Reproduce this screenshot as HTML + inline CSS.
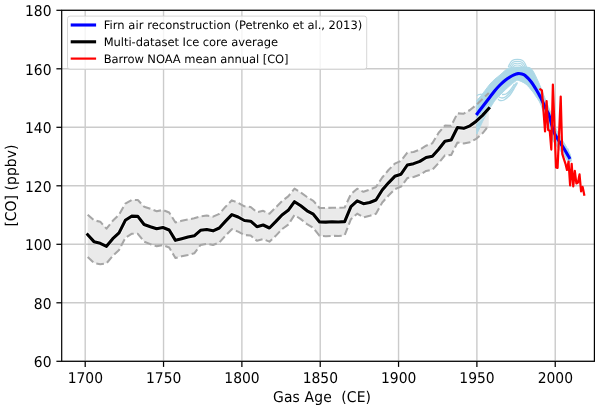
<!DOCTYPE html>
<html><head><meta charset="utf-8"><title>CO reconstruction</title>
<style>
html,body{margin:0;padding:0;background:#fff;}
body{width:600px;height:410px;overflow:hidden;}
svg{display:block;}
text{font-family:'DejaVu Sans','Liberation Sans',sans-serif;fill:#000;}
.tick{font-size:13.9px;text-rendering:geometricPrecision;}
.lab{font-size:13.9px;text-rendering:geometricPrecision;}
.leg{font-size:11.5px;text-rendering:geometricPrecision;}
</style></head><body>
<svg width="600" height="410" viewBox="0 0 600 410">
<rect x="0" y="0" width="600" height="410" fill="#ffffff"/>
<defs><clipPath id="ax"><rect x="61.7" y="10.3" width="532.6999999999999" height="351.0"/></clipPath></defs>

<g stroke="#cbcbcb" stroke-width="1.4" fill="none">
<line x1="85.20" y1="10.3" x2="85.20" y2="361.3"/>
<line x1="163.54" y1="10.3" x2="163.54" y2="361.3"/>
<line x1="241.88" y1="10.3" x2="241.88" y2="361.3"/>
<line x1="320.22" y1="10.3" x2="320.22" y2="361.3"/>
<line x1="398.55" y1="10.3" x2="398.55" y2="361.3"/>
<line x1="476.89" y1="10.3" x2="476.89" y2="361.3"/>
<line x1="555.23" y1="10.3" x2="555.23" y2="361.3"/>
<line x1="61.7" y1="361.30" x2="594.4" y2="361.30"/>
<line x1="61.7" y1="302.80" x2="594.4" y2="302.80"/>
<line x1="61.7" y1="244.30" x2="594.4" y2="244.30"/>
<line x1="61.7" y1="185.80" x2="594.4" y2="185.80"/>
<line x1="61.7" y1="127.30" x2="594.4" y2="127.30"/>
<line x1="61.7" y1="68.80" x2="594.4" y2="68.80"/>
<line x1="61.7" y1="10.30" x2="594.4" y2="10.30"/>
</g>
<g clip-path="url(#ax)">
<path d="M87.70,214.67 L93.97,220.33 L100.23,221.67 L106.50,228.67 L112.77,220.83 L119.03,214.67 L125.30,203.67 L131.57,200.00 L137.84,200.00 L144.10,206.67 L150.37,208.83 L156.64,211.17 L162.90,210.00 L169.17,212.50 L175.44,222.50 L181.71,220.83 L187.97,219.50 L194.24,218.33 L200.51,216.33 L206.77,215.50 L213.04,216.67 L219.31,213.83 L225.57,206.67 L231.84,200.33 L238.11,202.83 L244.38,206.33 L250.64,207.00 L256.91,212.17 L263.18,210.83 L269.44,213.67 L275.71,207.50 L281.98,201.17 L288.24,196.33 L294.51,188.67 L300.78,192.50 L307.05,197.00 L313.31,200.83 L319.58,208.00 L325.85,208.00 L332.11,207.67 L338.38,207.83 L344.65,207.50 L350.91,194.17 L357.18,188.67 L363.45,191.83 L369.72,189.67 L375.98,187.00 L382.25,177.50 L388.52,170.00 L394.78,163.67 L401.05,160.83 L407.32,152.67 L413.58,152.03 L419.85,149.63 L426.12,145.67 L432.38,143.33 L438.65,132.70 L444.92,125.60 L451.19,125.83 L457.45,113.33 L463.72,113.67 L469.99,110.00 L476.25,105.00 L482.52,99.00 L488.79,93.00 L488.79,125.50 L482.52,133.33 L476.25,138.83 L469.99,142.20 L463.72,143.50 L457.45,142.50 L451.19,155.00 L444.92,155.33 L438.65,163.00 L432.38,169.77 L426.12,170.93 L419.85,174.77 L413.58,176.93 L407.32,178.10 L401.05,186.67 L394.78,189.17 L388.52,195.50 L382.25,202.50 L375.98,213.80 L369.72,215.83 L363.45,217.37 L357.18,213.67 L350.91,219.17 L344.65,235.33 L338.38,236.00 L332.11,235.83 L325.85,236.17 L319.58,235.83 L313.31,228.00 L307.05,224.17 L300.78,219.17 L294.51,215.00 L288.24,224.67 L281.98,229.17 L275.71,235.83 L269.44,241.67 L263.18,239.17 L256.91,240.83 L250.64,235.50 L244.38,235.00 L238.11,231.67 L231.84,229.17 L225.57,235.50 L219.31,242.50 L213.04,245.00 L206.77,243.83 L200.51,245.00 L194.24,253.33 L187.97,255.00 L181.71,256.33 L175.44,258.00 L169.17,247.50 L162.90,245.00 L156.64,246.33 L150.37,244.17 L144.10,241.67 L137.84,233.83 L131.57,233.83 L125.30,237.83 L119.03,250.00 L112.77,255.83 L106.50,263.33 L100.23,264.17 L93.97,263.00 L87.70,257.00Z" fill="#808080" fill-opacity="0.17" stroke="none"/>
<path d="M476.80,100.00 C477.33,99.50 478.63,98.58 480.00,97.00 C481.37,95.42 483.33,92.67 485.00,90.50 C486.67,88.33 488.33,85.92 490.00,84.00 C491.67,82.08 493.33,80.50 495.00,79.00 C496.67,77.50 498.33,76.42 500.00,75.00 C501.67,73.58 503.67,71.58 505.00,70.50 C506.33,69.42 506.83,69.03 508.00,68.50 C509.17,67.97 510.00,67.55 512.00,67.30 C514.00,67.05 517.17,66.97 520.00,67.00 C522.83,67.03 526.83,66.83 529.00,67.50 C531.17,68.17 531.50,68.75 533.00,71.00 C534.50,73.25 536.67,78.17 538.00,81.00 C539.33,83.83 539.67,84.67 541.00,88.00 C542.33,91.33 544.42,97.00 546.00,101.00 C547.58,105.00 548.97,107.67 550.50,112.00 C552.03,116.33 553.55,122.87 555.20,127.00 C556.85,131.13 558.68,133.75 560.40,136.80 C562.12,139.85 563.93,142.50 565.50,145.30 C567.07,148.10 568.88,151.57 569.80,153.60 C570.72,155.63 570.80,156.85 571.00,157.50 L571.20,161.20 C570.72,161.30 569.45,162.73 568.30,161.80 C567.15,160.87 565.77,157.60 564.30,155.60 C562.83,153.60 561.13,151.90 559.50,149.80 C557.87,147.70 556.08,145.63 554.50,143.00 C552.92,140.37 551.33,137.50 550.00,134.00 C548.67,130.50 547.73,126.08 546.50,122.00 C545.27,117.92 543.80,112.92 542.60,109.50 C541.40,106.08 540.52,103.83 539.30,101.50 C538.08,99.17 536.47,97.20 535.30,95.50 C534.13,93.80 533.85,93.18 532.30,91.30 C530.75,89.42 528.33,86.02 526.00,84.20 C523.67,82.38 520.13,80.83 518.30,80.40 C516.47,79.97 516.47,80.67 515.00,81.60 C513.53,82.53 511.67,84.10 509.50,86.00 C507.33,87.90 504.12,90.92 502.00,93.00 C499.88,95.08 498.20,96.92 496.80,98.50 C495.40,100.08 494.95,100.50 493.60,102.50 C492.25,104.50 490.33,107.75 488.70,110.50 C487.07,113.25 485.38,115.92 483.80,119.00 C482.22,122.08 480.37,126.50 479.20,129.00 C478.03,131.50 477.20,133.17 476.80,134.00Z" fill="#add8e6" stroke="#add8e6" stroke-width="1" stroke-linejoin="round"/>
<path d="M508.2,67.2 C510.7,59.8 513.4,59.3 517.4,59.3 C521.4,59.3 524.2,59.8 526.7,67.6" fill="none" stroke="#add8e6" stroke-width="1.15"/>
<path d="M509.6,67.2 C512.1,61.8 513.4,61.3 517.4,61.3 C521.4,61.3 522.9,61.8 525.4,67.6" fill="none" stroke="#add8e6" stroke-width="1.15"/>
<path d="M511.0,67.2 C513.5,63.7 513.4,63.2 517.4,63.2 C521.4,63.2 521.5,63.7 524.0,67.6" fill="none" stroke="#add8e6" stroke-width="1.15"/>
<path d="M512.5,67.2 C515.0,65.5 513.4,65.0 517.4,65.0 C521.4,65.0 520.0,65.5 522.5,67.6" fill="none" stroke="#add8e6" stroke-width="1.15"/>
<path d="M498.00,99.00 C498.33,99.25 499.00,100.33 500.00,100.50 C501.00,100.67 502.33,100.92 504.00,100.00 C505.67,99.08 508.17,97.17 510.00,95.00 C511.83,92.83 513.75,89.08 515.00,87.00 C516.25,84.92 517.08,83.25 517.50,82.50" fill="none" stroke="#add8e6" stroke-width="1.35"/>
<path d="M499.00,97.00 C499.50,97.17 500.83,98.08 502.00,98.00 C503.17,97.92 504.33,97.83 506.00,96.50 C507.67,95.17 510.25,92.33 512.00,90.00 C513.75,87.67 515.75,83.75 516.50,82.50" fill="none" stroke="#add8e6" stroke-width="1.35"/>
<path d="M502.00,94.50 C502.67,94.42 504.67,94.67 506.00,94.00 C507.33,93.33 508.58,92.17 510.00,90.50 C511.42,88.83 513.75,85.08 514.50,84.00" fill="none" stroke="#add8e6" stroke-width="1.35"/>
<path d="M476.8,96 C478,94 482,93.3 485.5,96.5" fill="none" stroke="#add8e6" stroke-width="1.35"/>
<path d="M566.6,151.5 L568.1,149.6 L568.4,153.5" fill="none" stroke="#add8e6" stroke-width="1.1"/>
<path d="M87.70,214.67 L93.97,220.33 L100.23,221.67 L106.50,228.67 L112.77,220.83 L119.03,214.67 L125.30,203.67 L131.57,200.00 L137.84,200.00 L144.10,206.67 L150.37,208.83 L156.64,211.17 L162.90,210.00 L169.17,212.50 L175.44,222.50 L181.71,220.83 L187.97,219.50 L194.24,218.33 L200.51,216.33 L206.77,215.50 L213.04,216.67 L219.31,213.83 L225.57,206.67 L231.84,200.33 L238.11,202.83 L244.38,206.33 L250.64,207.00 L256.91,212.17 L263.18,210.83 L269.44,213.67 L275.71,207.50 L281.98,201.17 L288.24,196.33 L294.51,188.67 L300.78,192.50 L307.05,197.00 L313.31,200.83 L319.58,208.00 L325.85,208.00 L332.11,207.67 L338.38,207.83 L344.65,207.50 L350.91,194.17 L357.18,188.67 L363.45,191.83 L369.72,189.67 L375.98,187.00 L382.25,177.50 L388.52,170.00 L394.78,163.67 L401.05,160.83 L407.32,152.67 L413.58,152.03 L419.85,149.63 L426.12,145.67 L432.38,143.33 L438.65,132.70 L444.92,125.60 L451.19,125.83 L457.45,113.33 L463.72,113.67 L469.99,110.00 L476.25,105.00 L482.52,99.00 L488.79,93.00" fill="none" stroke="#a6a6a6" stroke-width="2.05" stroke-dasharray="7.7 3.35" stroke-linejoin="round"/>
<path d="M87.70,257.00 L93.97,263.00 L100.23,264.17 L106.50,263.33 L112.77,255.83 L119.03,250.00 L125.30,237.83 L131.57,233.83 L137.84,233.83 L144.10,241.67 L150.37,244.17 L156.64,246.33 L162.90,245.00 L169.17,247.50 L175.44,258.00 L181.71,256.33 L187.97,255.00 L194.24,253.33 L200.51,245.00 L206.77,243.83 L213.04,245.00 L219.31,242.50 L225.57,235.50 L231.84,229.17 L238.11,231.67 L244.38,235.00 L250.64,235.50 L256.91,240.83 L263.18,239.17 L269.44,241.67 L275.71,235.83 L281.98,229.17 L288.24,224.67 L294.51,215.00 L300.78,219.17 L307.05,224.17 L313.31,228.00 L319.58,235.83 L325.85,236.17 L332.11,235.83 L338.38,236.00 L344.65,235.33 L350.91,219.17 L357.18,213.67 L363.45,217.37 L369.72,215.83 L375.98,213.80 L382.25,202.50 L388.52,195.50 L394.78,189.17 L401.05,186.67 L407.32,178.10 L413.58,176.93 L419.85,174.77 L426.12,170.93 L432.38,169.77 L438.65,163.00 L444.92,155.33 L451.19,155.00 L457.45,142.50 L463.72,143.50 L469.99,142.20 L476.25,138.83 L482.52,133.33 L488.79,125.50" fill="none" stroke="#a6a6a6" stroke-width="2.05" stroke-dasharray="7.7 3.35" stroke-linejoin="round"/>
<path d="M87.70,234.67 L93.97,241.63 L100.23,243.33 L106.50,246.33 L112.77,238.67 L119.03,232.83 L125.30,220.33 L131.57,216.17 L137.84,216.33 L144.10,224.50 L150.37,226.67 L156.64,228.67 L162.90,227.50 L169.17,230.00 L175.44,240.33 L181.71,238.67 L187.97,237.00 L194.24,235.83 L200.51,230.33 L206.77,229.50 L213.04,230.83 L219.31,228.00 L225.57,221.17 L231.84,214.67 L238.11,217.00 L244.38,220.50 L250.64,221.17 L256.91,226.67 L263.18,225.00 L269.44,228.00 L275.71,221.67 L281.98,215.00 L288.24,210.33 L294.51,201.67 L300.78,205.83 L307.05,210.83 L313.31,214.17 L319.58,221.97 L325.85,222.13 L332.11,221.80 L338.38,221.97 L344.65,221.63 L350.91,206.67 L357.18,200.83 L363.45,203.67 L369.72,202.50 L375.98,200.00 L382.25,190.00 L388.52,182.83 L394.78,176.33 L401.05,174.17 L407.32,165.00 L413.58,163.67 L419.85,161.33 L426.12,157.50 L432.38,156.17 L438.65,149.17 L444.92,141.17 L451.19,140.00 L457.45,127.50 L463.72,128.33 L469.99,125.83 L476.25,121.20 L482.52,115.40 L488.79,108.40" fill="none" stroke="#fff" stroke-opacity="0.55" stroke-width="4.7" stroke-linejoin="round" stroke-linecap="square"/>
<path d="M87.70,234.67 L93.97,241.63 L100.23,243.33 L106.50,246.33 L112.77,238.67 L119.03,232.83 L125.30,220.33 L131.57,216.17 L137.84,216.33 L144.10,224.50 L150.37,226.67 L156.64,228.67 L162.90,227.50 L169.17,230.00 L175.44,240.33 L181.71,238.67 L187.97,237.00 L194.24,235.83 L200.51,230.33 L206.77,229.50 L213.04,230.83 L219.31,228.00 L225.57,221.17 L231.84,214.67 L238.11,217.00 L244.38,220.50 L250.64,221.17 L256.91,226.67 L263.18,225.00 L269.44,228.00 L275.71,221.67 L281.98,215.00 L288.24,210.33 L294.51,201.67 L300.78,205.83 L307.05,210.83 L313.31,214.17 L319.58,221.97 L325.85,222.13 L332.11,221.80 L338.38,221.97 L344.65,221.63 L350.91,206.67 L357.18,200.83 L363.45,203.67 L369.72,202.50 L375.98,200.00 L382.25,190.00 L388.52,182.83 L394.78,176.33 L401.05,174.17 L407.32,165.00 L413.58,163.67 L419.85,161.33 L426.12,157.50 L432.38,156.17 L438.65,149.17 L444.92,141.17 L451.19,140.00 L457.45,127.50 L463.72,128.33 L469.99,125.83 L476.25,121.20 L482.52,115.40 L488.79,108.40" fill="none" stroke="#000" stroke-width="3.1" stroke-linejoin="round" stroke-linecap="square"/>
<path d="M477.20,113.80 C477.67,113.17 478.70,111.72 480.00,110.00 C481.30,108.28 483.33,105.67 485.00,103.50 C486.67,101.33 488.33,99.17 490.00,97.00 C491.67,94.83 493.33,92.50 495.00,90.50 C496.67,88.50 498.33,86.67 500.00,85.00 C501.67,83.33 503.33,81.83 505.00,80.50 C506.67,79.17 508.50,77.95 510.00,77.00 C511.50,76.05 512.67,75.37 514.00,74.80 C515.33,74.23 516.67,73.73 518.00,73.60 C519.33,73.47 520.82,73.68 522.00,74.00 C523.18,74.32 523.58,74.22 525.10,75.50 C526.62,76.78 529.12,79.12 531.10,81.70 C533.08,84.28 535.50,88.53 537.00,91.00 C538.50,93.47 539.30,95.00 540.10,96.50 C540.90,98.00 540.70,97.67 541.80,100.00 C542.90,102.33 545.47,107.88 546.70,110.50 C547.93,113.12 548.07,112.28 549.20,115.70 C550.33,119.12 552.03,127.03 553.50,131.00 C554.97,134.97 556.42,136.83 558.00,139.50 C559.58,142.17 561.33,144.33 563.00,147.00 C564.67,149.67 566.97,153.73 568.00,155.50 C569.03,157.27 569.00,157.25 569.20,157.60" fill="none" stroke="#0000ff" stroke-width="3.1" stroke-linejoin="round" stroke-linecap="square"/>
<path d="M540.35,89.28 L541.91,90.45 L543.48,110.92 L545.05,131.40 L546.61,100.98 L548.18,129.93 L549.75,130.81 L551.31,149.53 L552.88,84.60 L554.45,126.13 L556.01,167.37 L557.58,167.96 L559.15,132.27 L560.71,96.59 L562.28,153.92 L563.85,158.89 L565.41,163.57 L566.98,170.00 L568.55,161.52 L570.12,185.51 L571.68,163.86 L573.25,186.39 L574.82,170.88 L576.38,183.46 L577.95,182.58 L579.52,174.39 L581.08,191.36 L582.65,186.97 L584.22,194.58" fill="none" stroke="#ff0000" stroke-width="2.2" stroke-linejoin="round" stroke-linecap="square"/>
</g>
<rect x="61.7" y="10.3" width="532.6999999999999" height="351.0" fill="none" stroke="#000" stroke-width="1.2"/>
<g stroke="#000" stroke-width="1.25">
<line x1="85.20" y1="361.3" x2="85.20" y2="366.90000000000003"/>
<line x1="163.54" y1="361.3" x2="163.54" y2="366.90000000000003"/>
<line x1="241.88" y1="361.3" x2="241.88" y2="366.90000000000003"/>
<line x1="320.22" y1="361.3" x2="320.22" y2="366.90000000000003"/>
<line x1="398.55" y1="361.3" x2="398.55" y2="366.90000000000003"/>
<line x1="476.89" y1="361.3" x2="476.89" y2="366.90000000000003"/>
<line x1="555.23" y1="361.3" x2="555.23" y2="366.90000000000003"/>
<line x1="61.7" y1="361.30" x2="56.400000000000006" y2="361.30"/>
<line x1="61.7" y1="302.80" x2="56.400000000000006" y2="302.80"/>
<line x1="61.7" y1="244.30" x2="56.400000000000006" y2="244.30"/>
<line x1="61.7" y1="185.80" x2="56.400000000000006" y2="185.80"/>
<line x1="61.7" y1="127.30" x2="56.400000000000006" y2="127.30"/>
<line x1="61.7" y1="68.80" x2="56.400000000000006" y2="68.80"/>
<line x1="61.7" y1="10.30" x2="56.400000000000006" y2="10.30"/>
</g>
<text class="tick" transform="translate(85.30,382.5) scale(1,1.07)" text-anchor="middle">1700</text>
<text class="tick" transform="translate(163.64,382.5) scale(1,1.07)" text-anchor="middle">1750</text>
<text class="tick" transform="translate(241.98,382.5) scale(1,1.07)" text-anchor="middle">1800</text>
<text class="tick" transform="translate(320.32,382.5) scale(1,1.07)" text-anchor="middle">1850</text>
<text class="tick" transform="translate(398.65,382.5) scale(1,1.07)" text-anchor="middle">1900</text>
<text class="tick" transform="translate(476.99,382.5) scale(1,1.07)" text-anchor="middle">1950</text>
<text class="tick" transform="translate(555.33,382.5) scale(1,1.07)" text-anchor="middle">2000</text>
<text class="tick" transform="translate(51.5,367.05) scale(1,1.07)" text-anchor="end">60</text>
<text class="tick" transform="translate(51.5,308.55) scale(1,1.07)" text-anchor="end">80</text>
<text class="tick" transform="translate(51.5,250.05) scale(1,1.07)" text-anchor="end">100</text>
<text class="tick" transform="translate(51.5,191.55) scale(1,1.07)" text-anchor="end">120</text>
<text class="tick" transform="translate(51.5,133.05) scale(1,1.07)" text-anchor="end">140</text>
<text class="tick" transform="translate(51.5,74.55) scale(1,1.07)" text-anchor="end">160</text>
<text class="tick" transform="translate(51.5,16.05) scale(1,1.07)" text-anchor="end">180</text>
<text class="lab" transform="translate(273,402.1) scale(1,1.07)" textLength="98" lengthAdjust="spacing" style="white-space:pre">Gas Age  (CE)</text>
<text class="lab" transform="translate(16.2,226.6) rotate(-90) scale(1,1.07)" textLength="82" lengthAdjust="spacing">[CO] (ppbv)</text>
<rect x="67.5" y="16.1" width="299.2" height="53.2" rx="2.5" ry="2.5" fill="#ffffff" fill-opacity="0.8" stroke="#cccccc" stroke-opacity="0.8" stroke-width="1"/>
<line x1="70.7" y1="25.0" x2="96.1" y2="25.0" stroke="#0000ff" stroke-width="3.1"/>
<text class="leg" x="103.7" y="29.0" style="white-space:pre"><tspan style="letter-spacing:0.045px">Firn air reconstruction </tspan><tspan style="letter-spacing:-0.045px">(Petrenko et al., 2013)</tspan></text>
<line x1="70.7" y1="41.8" x2="96.1" y2="41.8" stroke="#000000" stroke-width="3.1"/>
<text class="leg" x="103.7" y="45.8" textLength="174.3" lengthAdjust="spacing">Multi-dataset Ice core average</text>
<line x1="70.7" y1="58.6" x2="96.1" y2="58.6" stroke="#ff0000" stroke-width="2.2"/>
<text class="leg" x="103.7" y="62.6" textLength="184.9" lengthAdjust="spacing">Barrow NOAA mean annual [CO]</text>
</svg></body></html>
